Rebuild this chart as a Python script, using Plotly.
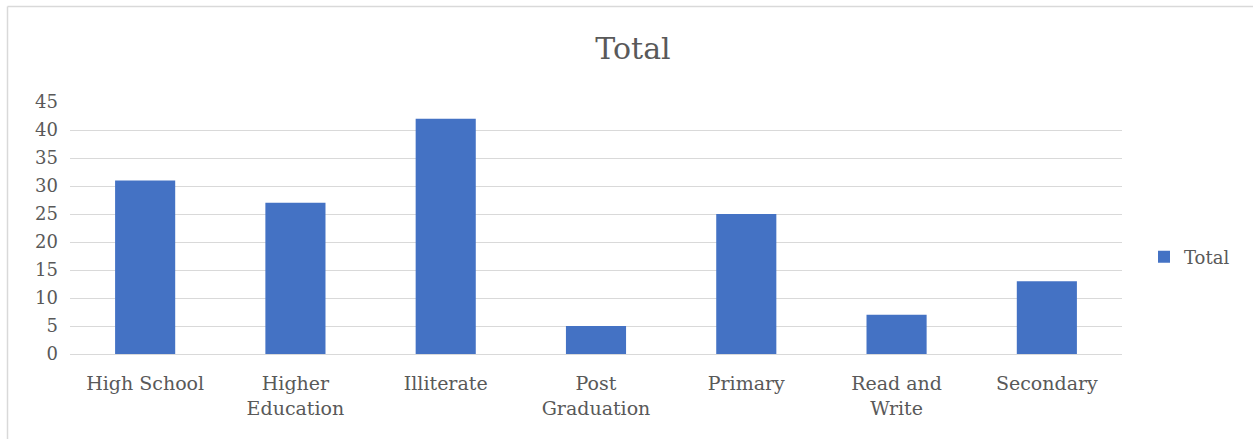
import plotly.graph_objects as go

# Education level counts
categories = ["High School", "Higher<br>Education", "Illiterate", "Post<br>Graduation",
              "Primary", "Read and<br>Write", "Secondary"]
totals = [31, 27, 42, 5, 25, 7, 13]
y_ticks = [0, 5, 10, 15, 20, 25, 30, 35, 40, 45]

BAR_COLOR = "#4472C4"
TEXT_COLOR = "#595959"
GRID_COLOR = "#d9d9d9"
FONT = "DejaVu Serif"

W, H = 1253, 439
L, R, T, B = 70, 131, 102, 85
pw, ph = W - L - R, H - T - B

def px_to_paper_x(px):
    return (px - L) / pw

def px_to_paper_y(py):
    return (H - B - py) / ph

fig = go.Figure(
    go.Bar(
        x=categories,
        y=totals,
        name="Total",
        marker=dict(color=BAR_COLOR, line=dict(width=0)),
        showlegend=True,
    )
)

fig.update_layout(
    width=W,
    height=H,
    margin=dict(l=L, r=R, t=T, b=B),
    paper_bgcolor="white",
    plot_bgcolor="white",
    bargap=0.6,
    font=dict(family=FONT, color=TEXT_COLOR, size=18),
    title=dict(
        text="Total",
        x=px_to_paper_x(633), xref="paper", xanchor="center",
        y=1 - 48 / H, yref="container", yanchor="middle",
        font=dict(family=FONT, size=30, color=TEXT_COLOR),
    ),
    legend=dict(
        x=px_to_paper_x(1144), xanchor="left",
        y=px_to_paper_y(257), yanchor="middle",
        font=dict(family=FONT, size=18, color=TEXT_COLOR),
        bgcolor="rgba(0,0,0,0)",
        itemwidth=30,
    ),
    xaxis=dict(
        showgrid=False,
        showline=True,
        linecolor=GRID_COLOR,
        linewidth=1,
        ticks="",
        ticklabelstandoff=12,
        tickfont=dict(family=FONT, size=19, color=TEXT_COLOR),
    ),
    yaxis=dict(
        range=[0, 45],
        tickvals=y_ticks,
        showgrid=True,
        gridcolor=GRID_COLOR,
        gridwidth=1,
        zeroline=False,
        showline=False,
        ticks="",
        ticklabelstandoff=11,
        tickfont=dict(family=FONT, size=18, color=TEXT_COLOR),
    ),
    shapes=[
        # outer chart frame: top and left edges
        dict(type="line", xref="paper", yref="paper",
             x0=px_to_paper_x(7.5), x1=px_to_paper_x(W + 5),
             y0=px_to_paper_y(6.5), y1=px_to_paper_y(6.5),
             line=dict(color=GRID_COLOR, width=1.5)),
        dict(type="line", xref="paper", yref="paper",
             x0=px_to_paper_x(7.5), x1=px_to_paper_x(7.5),
             y0=px_to_paper_y(6.5), y1=px_to_paper_y(H + 5),
             line=dict(color=GRID_COLOR, width=1.5)),
    ],
)

fig.write_html("out.html")
